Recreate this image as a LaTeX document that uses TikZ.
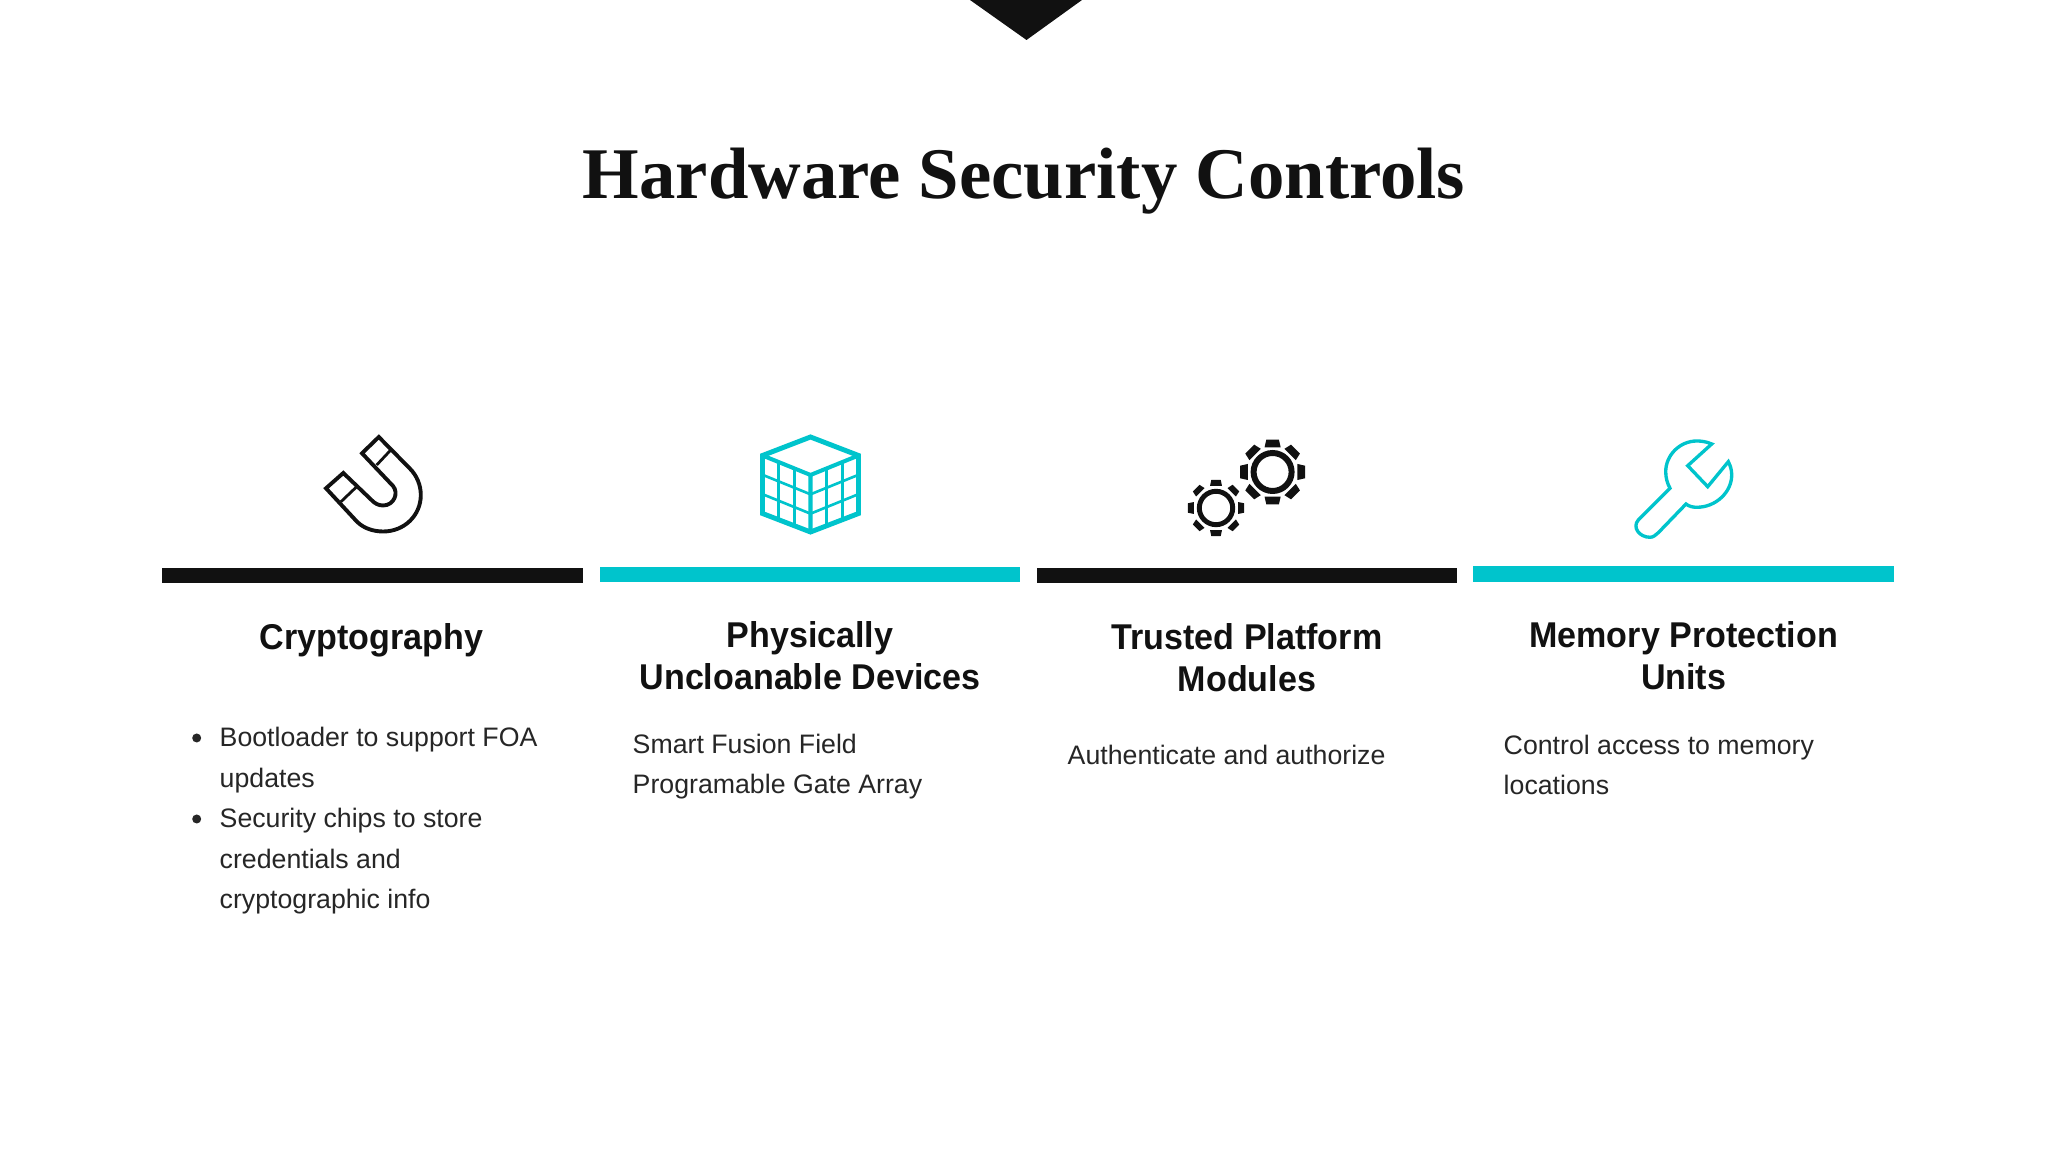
\documentclass[tikz,border=0pt]{standalone}
\usepackage{fontspec}
\setmainfont{Liberation Sans}
\newfontfamily\titlefont{Liberation Serif}
\newfontfamily\headfont[FakeStretch=0.95]{Liberation Sans}
\definecolor{ink}{HTML}{111111}
\definecolor{bodyink}{HTML}{262626}
\definecolor{teal}{HTML}{00C4CC}
\tikzset{
  heading/.style={text=ink,align=center,anchor=base,inner sep=0pt,font=\fontsize{10.2pt}{11.95pt}\selectfont\headfont\bfseries},
  bodytext/.style={text=bodyink,align=left,anchor=base west,inner sep=0pt,font=\fontsize{7.6pt}{11.55pt}\selectfont},
}
\begin{document}
\begin{tikzpicture}[x=0.1mm,y=-0.1mm]
  \useasboundingbox (0,0) rectangle (2048,1152);
  \fill[white] (0,0) rectangle (2048,1152);
  % top marker
  \fill[ink] (970,0) -- (1082,0) -- (1026.5,40) -- cycle;
  \node[text=ink,anchor=base,inner sep=0pt,font=\fontsize{20.7pt}{24pt}\selectfont\titlefont\bfseries] (title) at (1024,199) {Hardware Security Controls};
  % bars
  \fill[ink] (162,568) rectangle (583,583.5);
  \fill[teal] (600,566.7) rectangle (1020,582.3);
  \fill[ink] (1037,568) rectangle (1457,583.5);
  \fill[teal] (1473.4,566) rectangle (1894,582);
  % headings
  \node[heading] (crypto) at (371.5,649.3) {Cryptography};
  \node[heading] (puf) at (810,689.3) {Physically\\Uncloanable Devices};
  \node[heading] (tpm) at (1247,691.3) {Trusted Platform\\Modules};
  \node[heading] (mpu) at (1683.6,689.3) {Memory Protection\\Units};
  % body text
  \node[bodytext] (cryptotext) at (219,908.8) {Bootloader to support FOA\\updates\\Security chips to store\\credentials and\\cryptographic info};
  \fill[bodyink] (196.7,738) circle (4.5) (196.7,819) circle (4.5);
  \node[bodytext] (puftext) at (632,793.6) {Smart Fusion Field\\Programable Gate Array};
  \node[bodytext] (tpmtext) at (1067,764.6) {Authenticate and authorize};
  \node[bodytext] (mputext) at (1503,795) {Control access to memory\\locations};
  % magnet
  \draw[ink,line width=1.1pt,line join=miter]
    (378.8,437) -- (362,453.3) -- (393,486)
    .. controls (399,493) and (394,505.5) .. (383,505.5)
    .. controls (378,505.5) and (374.5,503) .. (372,500.5)
    -- (343.3,473) -- (326,488.3) -- (356.8,521.5)
    .. controls (363.8,528.5) and (373.4,531.5) .. (383.3,531.5)
    .. controls (404,531.5) and (420.8,515.7) .. (420.8,495)
    .. controls (420.8,485.1) and (416.8,475.5) .. (409.8,468.5) -- cycle;
  \draw[ink,line width=0.8pt] (391.7,449) -- (376.7,465) (356.7,486.7) -- (341,501.7);
  % cube
  \draw[teal,line width=1.4pt,line join=miter]
    (810.5,437) -- (858.5,455.5) -- (858.5,513.5) -- (810.5,532) -- (762.5,513.5) -- (762.5,455.5) -- cycle;
  \draw[teal,line width=1.15pt] (762.5,455.5) -- (810.5,475) -- (858.5,455.5) (810.5,475) -- (810.5,532);
  \foreach \t in {0.333,0.667}{
    \draw[teal,line width=0.75pt] (762.5,455.5+\t*58) -- (810.5,475+\t*58) -- (858.5,455.5+\t*58);
    \draw[teal,line width=0.75pt] (762.5+\t*48,455.5+\t*19.5) -- (762.5+\t*48,513.5+\t*18.5);
    \draw[teal,line width=0.75pt] (810.5+\t*48,475-\t*19.5) -- (810.5+\t*48,532-\t*18.5);
  }
  % gears
  \foreach \cx/\cy/\rr/\lw/\ra/\rb/\di/\do in {1272.6/472/19/1.7pt/26/33/18/11,1216/508/16.7/1.4pt/23/28.5/15/9.5}{
    \begin{scope}[shift={(\cx,\cy)}]
      \draw[ink,line width=\lw] (0,0) circle (\rr);
      \foreach \a in {0,45,...,315}{
        \fill[ink] (\a-\di:\ra) -- (\a-\do:\rb) -- (\a+\do:\rb) -- (\a+\di:\ra) -- cycle;
      }
    \end{scope}
  }
  % wrench
  \draw[teal,line width=0.95pt,line join=miter]
    (1711.7,444) .. controls (1706,441.5) and (1701,441) .. (1696.7,441)
    .. controls (1680,441) and (1665.7,455) .. (1665.7,471.7)
    .. controls (1665.7,478) and (1667.5,484) .. (1670,488.3)
    -- (1638.3,520) .. controls (1632,527) and (1639,537.3) .. (1650,537.3)
    .. controls (1653,537.3) and (1656,535) .. (1658.3,532.7)
    -- (1686,504) .. controls (1689,506.5) and (1693,507.3) .. (1696.7,507.3)
    .. controls (1716,507.3) and (1731.7,492) .. (1731.7,475)
    .. controls (1731.7,470) and (1730.5,466) .. (1728.3,461.7)
    -- (1707.7,486.7) -- (1687.7,465.7) -- cycle;
\end{tikzpicture}
\end{document}
